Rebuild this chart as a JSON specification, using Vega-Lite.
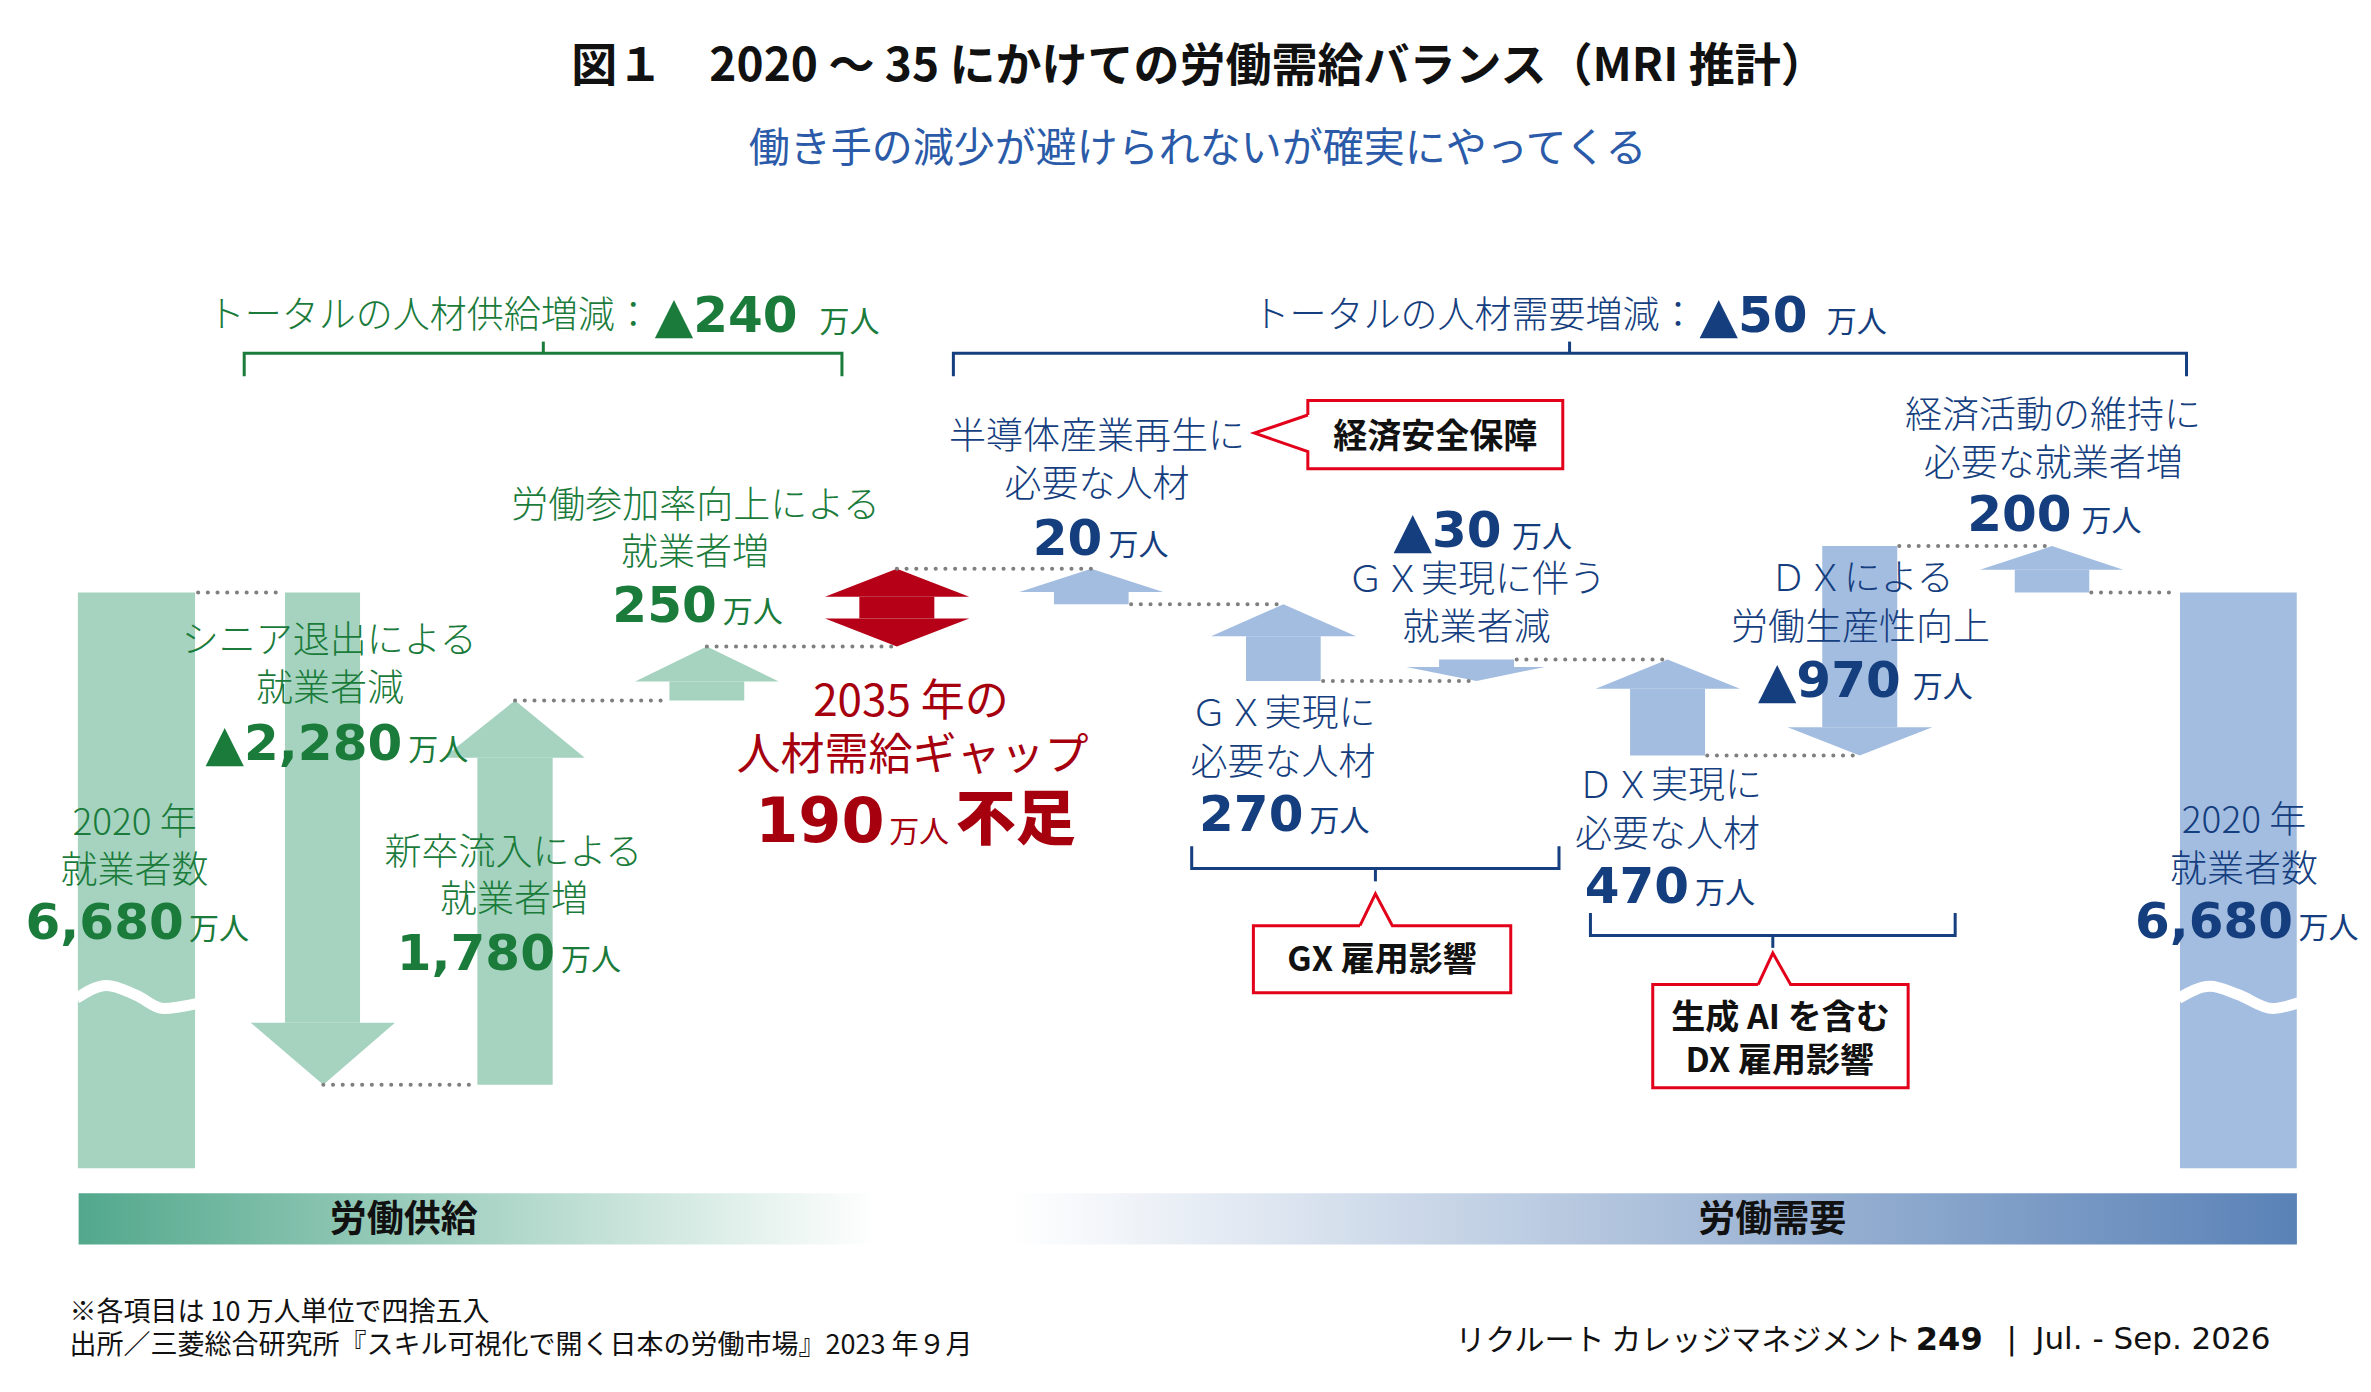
{
  "$schema": "https://vega.github.io/schema/vega-lite/v6.json",
  "width": 2371,
  "height": 1392,
  "autosize": {"type": "fit", "contains": "padding"},
  "padding": 0,
  "background": "white",
  "config": {"view": {"stroke": null}},
  "datasets": {
    "band": [{"x": 52, "x2": 1519, "y": 3897, "y2": 3660}],
    "rects": [
      {"id": "2020供給", "g": "supply", "x": 51.5, "x2": 129, "y": 6680, "y2": 4013},
      {"id": "シニア退出", "g": "supply", "x": 188.5, "x2": 238.1, "y": 6680, "y2": 4687},
      {"id": "新卒流入", "g": "supply", "x": 315.7, "x2": 365.5, "y": 4400, "y2": 5914},
      {"id": "労働参加率", "g": "supply", "x": 442.7, "x2": 492.2, "y": 6180, "y2": 6268},
      {"id": "ギャップ", "g": "gap", "x": 568.3, "x2": 617.9, "y": 6560, "y2": 6660},
      {"id": "半導体", "g": "demand", "x": 697, "x2": 746.4, "y": 6625, "y2": 6682},
      {"id": "GX必要", "g": "demand", "x": 824, "x2": 873.4, "y": 6270, "y2": 6477},
      {"id": "GX減", "g": "demand", "x": 951.7, "x2": 1001.3, "y": 6370, "y2": 6335},
      {"id": "DX必要", "g": "demand", "x": 1078, "x2": 1127.6, "y": 5925, "y2": 6234},
      {"id": "DX生産性", "g": "demand", "x": 1205.1, "x2": 1254.7, "y": 6895, "y2": 6056},
      {"id": "経済活動", "g": "demand", "x": 1332.4, "x2": 1381.7, "y": 6680, "y2": 6785},
      {"id": "2020需要", "g": "demand", "x": 1441.7, "x2": 1518.9, "y": 6680, "y2": 4013}
    ],
    "heads": [
      {"id": "シニア退出", "g": "supply", "x": 165.8, "y": 4687, "y2": 4687},
      {"id": "シニア退出", "g": "supply", "x": 213.8, "y": 4400, "y2": 4687},
      {"id": "シニア退出", "g": "supply", "x": 261.2, "y": 4687, "y2": 4687},
      {"id": "新卒流入", "g": "supply", "x": 293.2, "y": 5914, "y2": 5914},
      {"id": "新卒流入", "g": "supply", "x": 340.6, "y": 6180, "y2": 5914},
      {"id": "新卒流入", "g": "supply", "x": 386.7, "y": 5914, "y2": 5914},
      {"id": "労働参加率", "g": "supply", "x": 420, "y": 6268, "y2": 6268},
      {"id": "労働参加率", "g": "supply", "x": 467.45, "y": 6430, "y2": 6268},
      {"id": "労働参加率", "g": "supply", "x": 515, "y": 6268, "y2": 6268},
      {"id": "ギャップ上", "g": "gap", "x": 545.6, "y": 6660, "y2": 6660},
      {"id": "ギャップ上", "g": "gap", "x": 593.1, "y": 6790, "y2": 6660},
      {"id": "ギャップ上", "g": "gap", "x": 641, "y": 6660, "y2": 6660},
      {"id": "ギャップ下", "g": "gap", "x": 545.6, "y": 6560, "y2": 6560},
      {"id": "ギャップ下", "g": "gap", "x": 593.1, "y": 6430, "y2": 6560},
      {"id": "ギャップ下", "g": "gap", "x": 641, "y": 6560, "y2": 6560},
      {"id": "半導体", "g": "demand", "x": 674.1, "y": 6682, "y2": 6682},
      {"id": "半導体", "g": "demand", "x": 721.7, "y": 6790, "y2": 6682},
      {"id": "半導体", "g": "demand", "x": 769.3, "y": 6682, "y2": 6682},
      {"id": "GX必要", "g": "demand", "x": 800.9, "y": 6477, "y2": 6477},
      {"id": "GX必要", "g": "demand", "x": 848.7, "y": 6625, "y2": 6477},
      {"id": "GX必要", "g": "demand", "x": 896.8, "y": 6477, "y2": 6477},
      {"id": "GX減", "g": "demand", "x": 930, "y": 6335, "y2": 6335},
      {"id": "GX減", "g": "demand", "x": 976.5, "y": 6270, "y2": 6335},
      {"id": "GX減", "g": "demand", "x": 1021.8, "y": 6335, "y2": 6335},
      {"id": "DX必要", "g": "demand", "x": 1055.3, "y": 6234, "y2": 6234},
      {"id": "DX必要", "g": "demand", "x": 1102.8, "y": 6370, "y2": 6234},
      {"id": "DX必要", "g": "demand", "x": 1150.7, "y": 6234, "y2": 6234},
      {"id": "DX生産性", "g": "demand", "x": 1182.2, "y": 6056, "y2": 6056},
      {"id": "DX生産性", "g": "demand", "x": 1229.9, "y": 5925, "y2": 6056},
      {"id": "DX生産性", "g": "demand", "x": 1277.9, "y": 6056, "y2": 6056},
      {"id": "経済活動", "g": "demand", "x": 1309.4, "y": 6785, "y2": 6785},
      {"id": "経済活動", "g": "demand", "x": 1357, "y": 6895, "y2": 6785},
      {"id": "経済活動", "g": "demand", "x": 1404.2, "y": 6785, "y2": 6785}
    ],
    "waves": [
      {"id": "L", "x": 50.5, "y": 4800},
      {"id": "L", "x": 70.5, "y": 4860},
      {"id": "L", "x": 90, "y": 4815},
      {"id": "L", "x": 108, "y": 4753},
      {"id": "L", "x": 130, "y": 4776},
      {"id": "R", "x": 1440.7, "y": 4800},
      {"id": "R", "x": 1461.6, "y": 4856},
      {"id": "R", "x": 1480, "y": 4818},
      {"id": "R", "x": 1503, "y": 4753},
      {"id": "R", "x": 1520, "y": 4780}
    ],
    "dots": [
      {"x": 131, "x2": 187, "y": 6680},
      {"x": 213.8, "x2": 315, "y": 4400},
      {"x": 340.6, "x2": 442, "y": 6180},
      {"x": 467.45, "x2": 593.1, "y": 6430},
      {"x": 593.1, "x2": 721.7, "y": 6790},
      {"x": 748, "x2": 848.7, "y": 6625},
      {"x": 875, "x2": 976.5, "y": 6270},
      {"x": 1003, "x2": 1102.8, "y": 6370},
      {"x": 1129, "x2": 1229.9, "y": 5925},
      {"x": 1256, "x2": 1357, "y": 6895},
      {"x": 1383, "x2": 1440, "y": 6680}
    ],
    "outlines": [
      {"id": "sb", "g": "supply", "o": 1, "x": 161.5, "y": 7681},
      {"id": "sb", "g": "supply", "o": 2, "x": 161.5, "y": 7788},
      {"id": "sb", "g": "supply", "o": 3, "x": 556.8, "y": 7788},
      {"id": "sb", "g": "supply", "o": 4, "x": 556.8, "y": 7681},
      {"id": "sbt", "g": "supply", "o": 1, "x": 359.3, "y": 7788},
      {"id": "sbt", "g": "supply", "o": 2, "x": 359.3, "y": 7842},
      {"id": "db", "g": "demand", "o": 1, "x": 630.5, "y": 7681},
      {"id": "db", "g": "demand", "o": 2, "x": 630.5, "y": 7788},
      {"id": "db", "g": "demand", "o": 3, "x": 1446, "y": 7788},
      {"id": "db", "g": "demand", "o": 4, "x": 1446, "y": 7681},
      {"id": "dbt", "g": "demand", "o": 1, "x": 1038, "y": 7788},
      {"id": "dbt", "g": "demand", "o": 2, "x": 1038, "y": 7842},
      {"id": "gb", "g": "demand", "o": 1, "x": 788.1, "y": 5505},
      {"id": "gb", "g": "demand", "o": 2, "x": 788.1, "y": 5401},
      {"id": "gb", "g": "demand", "o": 3, "x": 1031, "y": 5401},
      {"id": "gb", "g": "demand", "o": 4, "x": 1031, "y": 5505},
      {"id": "gbt", "g": "demand", "o": 1, "x": 909.6, "y": 5401},
      {"id": "gbt", "g": "demand", "o": 2, "x": 909.6, "y": 5342},
      {"id": "xb", "g": "demand", "o": 1, "x": 1051.8, "y": 5196},
      {"id": "xb", "g": "demand", "o": 2, "x": 1051.8, "y": 5091},
      {"id": "xb", "g": "demand", "o": 3, "x": 1293, "y": 5091},
      {"id": "xb", "g": "demand", "o": 4, "x": 1293, "y": 5196},
      {"id": "xbt", "g": "demand", "o": 1, "x": 1172.4, "y": 5091},
      {"id": "xbt", "g": "demand", "o": 2, "x": 1172.4, "y": 5034},
      {"id": "c1", "g": "callout", "o": 1, "x": 864.9, "y": 7502},
      {"id": "c1", "g": "callout", "o": 2, "x": 864.9, "y": 7569},
      {"id": "c1", "g": "callout", "o": 3, "x": 1033.5, "y": 7569},
      {"id": "c1", "g": "callout", "o": 4, "x": 1033.5, "y": 7253},
      {"id": "c1", "g": "callout", "o": 5, "x": 864.9, "y": 7253},
      {"id": "c1", "g": "callout", "o": 6, "x": 864.9, "y": 7333},
      {"id": "c1", "g": "callout", "o": 7, "x": 829.6, "y": 7418},
      {"id": "c1", "g": "callout", "o": 8, "x": 864.9, "y": 7502},
      {"id": "c2", "g": "callout", "o": 1, "x": 899.4, "y": 5137},
      {"id": "c2", "g": "callout", "o": 2, "x": 909.6, "y": 5284},
      {"id": "c2", "g": "callout", "o": 3, "x": 920.8, "y": 5137},
      {"id": "c2", "g": "callout", "o": 4, "x": 999.1, "y": 5137},
      {"id": "c2", "g": "callout", "o": 5, "x": 999.1, "y": 4826},
      {"id": "c2", "g": "callout", "o": 6, "x": 828.9, "y": 4826},
      {"id": "c2", "g": "callout", "o": 7, "x": 828.9, "y": 5137},
      {"id": "c2", "g": "callout", "o": 8, "x": 899.4, "y": 5137},
      {"id": "c3", "g": "callout", "o": 1, "x": 1162.7, "y": 4864},
      {"id": "c3", "g": "callout", "o": 2, "x": 1172.4, "y": 5010},
      {"id": "c3", "g": "callout", "o": 3, "x": 1184.2, "y": 4864},
      {"id": "c3", "g": "callout", "o": 4, "x": 1261.9, "y": 4864},
      {"id": "c3", "g": "callout", "o": 5, "x": 1261.9, "y": 4386},
      {"id": "c3", "g": "callout", "o": 6, "x": 1093, "y": 4386},
      {"id": "c3", "g": "callout", "o": 7, "x": 1093, "y": 4864},
      {"id": "c3", "g": "callout", "o": 8, "x": 1162.7, "y": 4864}
    ],
    "labels": [
      {"role": "title", "g": "neutral", "x": 793, "y": 9130, "text": "図１　2020 ～ 35 にかけての労働需給バランス（MRI 推計）"},
      {"role": "subtitle", "g": "sub", "x": 792, "y": 8745, "text": "働き手の減少が避けられないが確実にやってくる"},
      {"role": "totaldesc", "g": "supply", "x": 431, "y": 7968, "text": "トータルの人材供給増減："},
      {"role": "totalvalue", "g": "supply", "x": 433, "y": 7888, "text": "▲240"},
      {"role": "unit", "g": "supply", "x": 542, "y": 7888, "text": "万人"},
      {"role": "totaldesc", "g": "demand", "x": 1122, "y": 7968, "text": "トータルの人材需要増減："},
      {"role": "totalvalue", "g": "demand", "x": 1124, "y": 7888, "text": "▲50"},
      {"role": "unit", "g": "demand", "x": 1208, "y": 7888, "text": "万人"},
      {"role": "desc", "g": "supply", "x": 89, "y": 5620, "text": "2020 年"},
      {"role": "desc", "g": "supply", "x": 89, "y": 5401, "text": "就業者数"},
      {"role": "value", "g": "supply", "x": 121.5, "y": 5073, "text": "6,680"},
      {"role": "unit", "g": "supply", "x": 125, "y": 5073, "text": "万人"},
      {"role": "desc", "g": "supply", "x": 217.7, "y": 6464, "text": "シニア退出による"},
      {"role": "desc", "g": "supply", "x": 218.2, "y": 6240, "text": "就業者減"},
      {"role": "value", "g": "supply", "x": 266, "y": 5906, "text": "▲2,280"},
      {"role": "unit", "g": "supply", "x": 270, "y": 5906, "text": "万人"},
      {"role": "desc", "g": "supply", "x": 339.5, "y": 5484, "text": "新卒流入による"},
      {"role": "desc", "g": "supply", "x": 340, "y": 5267, "text": "就業者増"},
      {"role": "value", "g": "supply", "x": 367, "y": 4930, "text": "1,780"},
      {"role": "unit", "g": "supply", "x": 371, "y": 4930, "text": "万人"},
      {"role": "desc", "g": "supply", "x": 460, "y": 7091, "text": "労働参加率向上による"},
      {"role": "desc", "g": "supply", "x": 459.7, "y": 6870, "text": "就業者増"},
      {"role": "value", "g": "supply", "x": 474, "y": 6541, "text": "250"},
      {"role": "unit", "g": "supply", "x": 478, "y": 6541, "text": "万人"},
      {"role": "gapdesc", "g": "gap", "x": 602.4, "y": 6183, "text": "2035 年の"},
      {"role": "gapdesc", "g": "gap", "x": 603.5, "y": 5934, "text": "人材需給ギャップ"},
      {"role": "gapvalue", "g": "gap", "x": 585, "y": 5522, "text": "190"},
      {"role": "unit", "g": "gap", "x": 588, "y": 5522, "text": "万人"},
      {"role": "gapbold", "g": "gap", "x": 632, "y": 5535, "text": "不足"},
      {"role": "desc", "g": "demand", "x": 725.4, "y": 7407, "text": "半導体産業再生に"},
      {"role": "desc", "g": "demand", "x": 725.4, "y": 7185, "text": "必要な人材"},
      {"role": "value", "g": "demand", "x": 729, "y": 6855, "text": "20"},
      {"role": "unit", "g": "demand", "x": 733, "y": 6855, "text": "万人"},
      {"role": "value", "g": "demand", "x": 993, "y": 6890, "text": "▲30"},
      {"role": "unit", "g": "demand", "x": 1000, "y": 6890, "text": "万人"},
      {"role": "desc", "g": "demand", "x": 976.4, "y": 6746, "text": "ＧＸ実現に伴う"},
      {"role": "desc", "g": "demand", "x": 976.5, "y": 6524, "text": "就業者減"},
      {"role": "desc", "g": "demand", "x": 848.4, "y": 6126, "text": "ＧＸ実現に"},
      {"role": "desc", "g": "demand", "x": 848.5, "y": 5900, "text": "必要な人材"},
      {"role": "value", "g": "demand", "x": 862, "y": 5574, "text": "270"},
      {"role": "unit", "g": "demand", "x": 866, "y": 5574, "text": "万人"},
      {"role": "desc", "g": "demand", "x": 1104, "y": 5794, "text": "ＤＸ実現に"},
      {"role": "desc", "g": "demand", "x": 1102.7, "y": 5566, "text": "必要な人材"},
      {"role": "value", "g": "demand", "x": 1117, "y": 5242, "text": "470"},
      {"role": "unit", "g": "demand", "x": 1121, "y": 5242, "text": "万人"},
      {"role": "desc", "g": "demand", "x": 1231.2, "y": 6751, "text": "ＤＸによる"},
      {"role": "desc", "g": "demand", "x": 1230.4, "y": 6527, "text": "労働生産性向上"},
      {"role": "value", "g": "demand", "x": 1257, "y": 6196, "text": "▲970"},
      {"role": "unit", "g": "demand", "x": 1265, "y": 6196, "text": "万人"},
      {"role": "desc", "g": "demand", "x": 1357.7, "y": 7507, "text": "経済活動の維持に"},
      {"role": "desc", "g": "demand", "x": 1357.8, "y": 7283, "text": "必要な就業者増"},
      {"role": "value", "g": "demand", "x": 1370, "y": 6965, "text": "200"},
      {"role": "unit", "g": "demand", "x": 1376.5, "y": 6965, "text": "万人"},
      {"role": "desc", "g": "demand", "x": 1484, "y": 5631, "text": "2020 年"},
      {"role": "desc", "g": "demand", "x": 1484, "y": 5402, "text": "就業者数"},
      {"role": "value", "g": "demand", "x": 1516.5, "y": 5080, "text": "6,680"},
      {"role": "unit", "g": "demand", "x": 1520, "y": 5080, "text": "万人"},
      {"role": "callout", "g": "neutral", "x": 949.2, "y": 7411, "text": "経済安全保障"},
      {"role": "callout", "g": "neutral", "x": 914, "y": 4985, "text": "GX 雇用影響"},
      {"role": "callout", "g": "neutral", "x": 1177.5, "y": 4718, "text": "生成 AI を含む"},
      {"role": "callout", "g": "neutral", "x": 1177, "y": 4521, "text": "DX 雇用影響"},
      {"role": "band", "g": "neutral", "x": 267, "y": 3782, "text": "労働供給"},
      {"role": "band", "g": "neutral", "x": 1172, "y": 3782, "text": "労働需要"},
      {"role": "note", "g": "neutral", "x": 46, "y": 3351, "text": "※各項目は 10 万人単位で四捨五入"},
      {"role": "note", "g": "neutral", "x": 46, "y": 3197, "text": "出所／三菱総合研究所『スキル可視化で開く日本の労働市場』2023 年９月"},
      {"role": "creditR", "g": "neutral", "x": 1264, "y": 3221, "text": "リクルート カレッジマネジメント"},
      {"role": "creditB", "g": "neutral", "x": 1267, "y": 3221, "text": "249"},
      {"role": "creditL", "g": "neutral", "x": 1327, "y": 3221, "text": "|"},
      {"role": "creditL", "g": "neutral", "x": 1346, "y": 3221, "text": "Jul. - Sep. 2026"}
    ]
  },
  "encoding": {
    "x": {"field": "x", "type": "quantitative", "scale": {"domain": [0, 1568], "nice": false, "zero": false}, "axis": null},
    "y": {"field": "y", "type": "quantitative", "scale": {"domain": [2977, 9424], "nice": false, "zero": false}, "axis": null}
  },
  "layer": [
    {
      "data": {"name": "band"},
      "mark": {"type": "rect", "color": {"gradient": "linear", "x1": 0, "x2": 1, "y1": 0, "y2": 0, "stops": [{"offset": 0, "color": "#52a88c"}, {"offset": 0.36, "color": "#ffffff"}, {"offset": 0.42, "color": "#ffffff"}, {"offset": 1, "color": "#5a82b7"}]}},
      "encoding": {"x2": {"field": "x2"}, "y2": {"field": "y2"}}
    },
    {
      "data": {"name": "rects"},
      "mark": {"type": "rect"},
      "encoding": {
        "x2": {"field": "x2"}, "y2": {"field": "y2"},
        "color": {"field": "g", "type": "nominal", "scale": {"domain": ["supply", "demand", "gap"], "range": ["#a5d3bf", "#a3bde1", "#b50018"]}, "legend": null}
      }
    },
    {
      "data": {"name": "heads"},
      "mark": {"type": "area", "orient": "vertical", "interpolate": "linear"},
      "encoding": {
        "y2": {"field": "y2"},
        "detail": {"field": "id"},
        "color": {"field": "g", "type": "nominal", "scale": {"domain": ["supply", "demand", "gap"], "range": ["#a5d3bf", "#a3bde1", "#b50018"]}, "legend": null}
      }
    },
    {
      "data": {"name": "waves"},
      "mark": {"type": "line", "color": "#ffffff", "strokeWidth": 11, "interpolate": "monotone"},
      "encoding": {"detail": {"field": "id"}}
    },
    {
      "data": {"name": "dots"},
      "mark": {"type": "rule", "color": "#7f7f7f", "strokeWidth": 4, "strokeCap": "round", "strokeDash": [0.1, 9.6]},
      "encoding": {"x2": {"field": "x2"}}
    },
    {
      "data": {"name": "outlines"},
      "mark": {"type": "line", "strokeWidth": 3, "strokeJoin": "miter", "strokeCap": "butt"},
      "encoding": {
        "detail": {"field": "id"},
        "order": {"field": "o", "type": "quantitative"},
        "stroke": {"field": "g", "type": "nominal", "scale": {"domain": ["supply", "demand", "callout"], "range": ["#1a7b3b", "#163f7f", "#e2001a"]}, "legend": null}
      }
    },
    {
      "data": {"name": "labels"},
      "transform": [{"filter": "datum.role === 'title'"}],
      "mark": {"type": "text", "font": "Noto Sans CJK JP", "fontSize": 46, "fontWeight": "bold", "align": "center", "baseline": "middle", "dy": 4},
      "encoding": {"text": {"field": "text"}, "fill": {"field": "g", "type": "nominal", "scale": {"domain": ["supply", "demand", "gap", "neutral", "sub"], "range": ["#1a7b3b", "#153e7e", "#a6000f", "#111111", "#2b5ba8"]}, "legend": null}}
    },
    {
      "data": {"name": "labels"},
      "transform": [{"filter": "datum.role === 'subtitle'"}],
      "mark": {"type": "text", "font": "Noto Sans CJK JP", "fontSize": 41, "align": "center", "baseline": "middle", "dy": 3},
      "encoding": {"text": {"field": "text"}, "fill": {"field": "g", "type": "nominal", "scale": {"domain": ["supply", "demand", "gap", "neutral", "sub"], "range": ["#1a7b3b", "#153e7e", "#a6000f", "#111111", "#2b5ba8"]}, "legend": null}}
    },
    {
      "data": {"name": "labels"},
      "transform": [{"filter": "datum.role === 'desc'"}],
      "mark": {"type": "text", "font": "Noto Sans CJK JP", "fontSize": 37, "fontWeight": 300, "align": "center", "baseline": "middle", "dy": 3},
      "encoding": {"text": {"field": "text"}, "fill": {"field": "g", "type": "nominal", "scale": {"domain": ["supply", "demand", "gap", "neutral", "sub"], "range": ["#1a7b3b", "#153e7e", "#a6000f", "#111111", "#2b5ba8"]}, "legend": null}}
    },
    {
      "data": {"name": "labels"},
      "transform": [{"filter": "datum.role === 'totaldesc'"}],
      "mark": {"type": "text", "font": "Noto Sans CJK JP", "fontSize": 37, "fontWeight": 300, "align": "right", "baseline": "middle", "dy": 3},
      "encoding": {"text": {"field": "text"}, "fill": {"field": "g", "type": "nominal", "scale": {"domain": ["supply", "demand", "gap", "neutral", "sub"], "range": ["#1a7b3b", "#153e7e", "#a6000f", "#111111", "#2b5ba8"]}, "legend": null}}
    },
    {
      "data": {"name": "labels"},
      "transform": [{"filter": "datum.role === 'gapdesc'"}],
      "mark": {"type": "text", "font": "Noto Sans CJK JP", "fontSize": 44, "align": "center", "baseline": "middle", "dy": 3},
      "encoding": {"text": {"field": "text"}, "fill": {"field": "g", "type": "nominal", "scale": {"domain": ["supply", "demand", "gap", "neutral", "sub"], "range": ["#1a7b3b", "#153e7e", "#a6000f", "#111111", "#2b5ba8"]}, "legend": null}}
    },
    {
      "data": {"name": "labels"},
      "transform": [{"filter": "datum.role === 'value'"}],
      "mark": {"type": "text", "font": "DejaVu Sans", "fontSize": 50, "fontWeight": "bold", "align": "right", "baseline": "alphabetic"},
      "encoding": {"text": {"field": "text"}, "fill": {"field": "g", "type": "nominal", "scale": {"domain": ["supply", "demand", "gap", "neutral", "sub"], "range": ["#1a7b3b", "#153e7e", "#a6000f", "#111111", "#2b5ba8"]}, "legend": null}}
    },
    {
      "data": {"name": "labels"},
      "transform": [{"filter": "datum.role === 'totalvalue'"}],
      "mark": {"type": "text", "font": "DejaVu Sans", "fontSize": 50, "fontWeight": "bold", "align": "left", "baseline": "alphabetic"},
      "encoding": {"text": {"field": "text"}, "fill": {"field": "g", "type": "nominal", "scale": {"domain": ["supply", "demand", "gap", "neutral", "sub"], "range": ["#1a7b3b", "#153e7e", "#a6000f", "#111111", "#2b5ba8"]}, "legend": null}}
    },
    {
      "data": {"name": "labels"},
      "transform": [{"filter": "datum.role === 'unit'"}],
      "mark": {"type": "text", "font": "Noto Sans CJK JP", "fontSize": 30, "align": "left", "baseline": "alphabetic"},
      "encoding": {"text": {"field": "text"}, "fill": {"field": "g", "type": "nominal", "scale": {"domain": ["supply", "demand", "gap", "neutral", "sub"], "range": ["#1a7b3b", "#153e7e", "#a6000f", "#111111", "#2b5ba8"]}, "legend": null}}
    },
    {
      "data": {"name": "labels"},
      "transform": [{"filter": "datum.role === 'gapvalue'"}],
      "mark": {"type": "text", "font": "DejaVu Sans", "fontSize": 62, "fontWeight": "bold", "align": "right", "baseline": "alphabetic"},
      "encoding": {"text": {"field": "text"}, "fill": {"field": "g", "type": "nominal", "scale": {"domain": ["supply", "demand", "gap", "neutral", "sub"], "range": ["#1a7b3b", "#153e7e", "#a6000f", "#111111", "#2b5ba8"]}, "legend": null}}
    },
    {
      "data": {"name": "labels"},
      "transform": [{"filter": "datum.role === 'gapbold'"}],
      "mark": {"type": "text", "font": "Noto Sans CJK JP", "fontSize": 60, "fontWeight": 900, "align": "left", "baseline": "alphabetic"},
      "encoding": {"text": {"field": "text"}, "fill": {"field": "g", "type": "nominal", "scale": {"domain": ["supply", "demand", "gap", "neutral", "sub"], "range": ["#1a7b3b", "#153e7e", "#a6000f", "#111111", "#2b5ba8"]}, "legend": null}}
    },
    {
      "data": {"name": "labels"},
      "transform": [{"filter": "datum.role === 'callout'"}],
      "mark": {"type": "text", "font": "Noto Sans CJK JP", "fontSize": 34, "fontWeight": "bold", "align": "center", "baseline": "middle", "dy": 3},
      "encoding": {"text": {"field": "text"}, "fill": {"field": "g", "type": "nominal", "scale": {"domain": ["supply", "demand", "gap", "neutral", "sub"], "range": ["#1a7b3b", "#153e7e", "#a6000f", "#111111", "#2b5ba8"]}, "legend": null}}
    },
    {
      "data": {"name": "labels"},
      "transform": [{"filter": "datum.role === 'band'"}],
      "mark": {"type": "text", "font": "Noto Sans CJK JP", "fontSize": 37, "fontWeight": "bold", "align": "center", "baseline": "middle", "dy": 3},
      "encoding": {"text": {"field": "text"}, "fill": {"field": "g", "type": "nominal", "scale": {"domain": ["supply", "demand", "gap", "neutral", "sub"], "range": ["#1a7b3b", "#153e7e", "#a6000f", "#111111", "#2b5ba8"]}, "legend": null}}
    },
    {
      "data": {"name": "labels"},
      "transform": [{"filter": "datum.role === 'note'"}],
      "mark": {"type": "text", "font": "Noto Sans CJK JP", "fontSize": 27, "align": "left", "baseline": "middle", "dy": 2},
      "encoding": {"text": {"field": "text"}, "fill": {"field": "g", "type": "nominal", "scale": {"domain": ["supply", "demand", "gap", "neutral", "sub"], "range": ["#1a7b3b", "#153e7e", "#a6000f", "#111111", "#2b5ba8"]}, "legend": null}}
    },
    {
      "data": {"name": "labels"},
      "transform": [{"filter": "datum.role === 'creditR'"}],
      "mark": {"type": "text", "font": "Noto Sans CJK JP", "fontSize": 30, "align": "right", "baseline": "middle", "dy": 2},
      "encoding": {"text": {"field": "text"}, "fill": {"field": "g", "type": "nominal", "scale": {"domain": ["supply", "demand", "gap", "neutral", "sub"], "range": ["#1a7b3b", "#153e7e", "#a6000f", "#111111", "#2b5ba8"]}, "legend": null}}
    },
    {
      "data": {"name": "labels"},
      "transform": [{"filter": "datum.role === 'creditB'"}],
      "mark": {"type": "text", "font": "DejaVu Sans", "fontSize": 32, "fontWeight": "bold", "align": "left", "baseline": "middle", "dy": 1},
      "encoding": {"text": {"field": "text"}, "fill": {"field": "g", "type": "nominal", "scale": {"domain": ["supply", "demand", "gap", "neutral", "sub"], "range": ["#1a7b3b", "#153e7e", "#a6000f", "#111111", "#2b5ba8"]}, "legend": null}}
    },
    {
      "data": {"name": "labels"},
      "transform": [{"filter": "datum.role === 'creditL'"}],
      "mark": {"type": "text", "font": "DejaVu Sans", "fontSize": 31, "align": "left", "baseline": "middle", "dy": 1},
      "encoding": {"text": {"field": "text"}, "fill": {"field": "g", "type": "nominal", "scale": {"domain": ["supply", "demand", "gap", "neutral", "sub"], "range": ["#1a7b3b", "#153e7e", "#a6000f", "#111111", "#2b5ba8"]}, "legend": null}}
    }
  ]
}
